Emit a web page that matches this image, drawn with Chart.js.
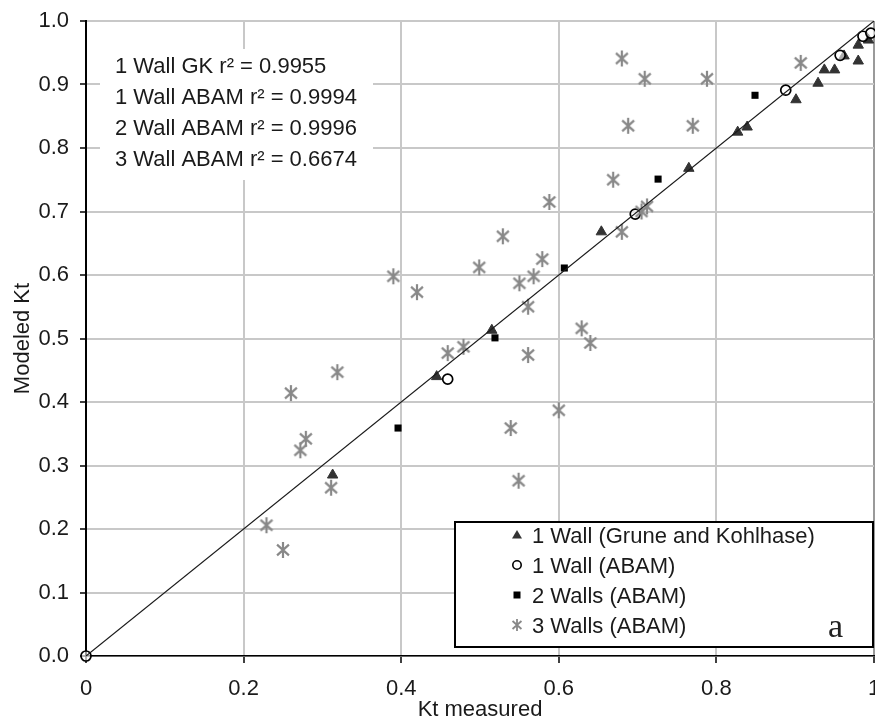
<!DOCTYPE html>
<html>
<head>
<meta charset="utf-8">
<title>Modeled vs measured Kt</title>
<script src="https://cdn.jsdelivr.net/npm/chart.js@4.4.1/dist/chart.umd.min.js"></script>
<style>
    body { margin: 0; background: #fff; }
    #wrap { width: 875px; height: 723px; }
</style>
</head>
<body>
<div id="wrap"><canvas id="ktChart" width="875" height="723"></canvas></div>
<script>
// Axis tick labels
const xTickLabels = ["0", "0.2", "0.4", "0.6", "0.8", "1"];
const yTickLabels = ["0.0", "0.1", "0.2", "0.3", "0.4", "0.5", "0.6", "0.7", "0.8", "0.9", "1.0"];

// 1 Wall (Grune and Kohlhase)
const gkX = [0.313, 0.445, 0.515, 0.654, 0.765, 0.827, 0.839, 0.901, 0.929, 0.937, 0.950, 0.962, 0.980, 0.980, 0.993];
const gkY = [0.285, 0.440, 0.513, 0.668, 0.768, 0.825, 0.833, 0.876, 0.902, 0.923, 0.923, 0.945, 0.937, 0.962, 0.970];

// 1 Wall (ABAM)
const abamX = [0, 0.459, 0.697, 0.888, 0.957, 0.986, 0.996];
const abamY = [0, 0.436, 0.696, 0.891, 0.946, 0.976, 0.981];

// 2 Walls (ABAM)
const twoX = [0.396, 0.519, 0.607, 0.726, 0.849];
const twoY = [0.359, 0.501, 0.611, 0.751, 0.883];

// 3 Walls (ABAM)
const threeX = [0.229, 0.250, 0.260, 0.272, 0.279, 0.311, 0.319,
    0.390, 0.420, 0.459, 0.479, 0.499, 0.529, 0.539, 0.549, 0.550, 0.561, 0.561,
    0.568, 0.579, 0.588, 0.600, 0.629, 0.640,
    0.669, 0.680, 0.680, 0.688, 0.705, 0.712, 0.709, 0.770, 0.788, 0.907];
const threeY = [0.206, 0.167, 0.414, 0.324, 0.342, 0.265, 0.447,
    0.598, 0.573, 0.477, 0.487, 0.612, 0.661, 0.359, 0.276, 0.587, 0.550, 0.474,
    0.598, 0.625, 0.715, 0.387, 0.516, 0.493,
    0.750, 0.668, 0.941, 0.835, 0.700, 0.708, 0.909, 0.835, 0.909, 0.934];

// 1:1 line
const lineX = [0, 1];
const lineY = [0, 1];

const rSquaredText = [
    "1 Wall GK r\u00b2 = 0.9955",
    "1 Wall ABAM r\u00b2 = 0.9994",
    "2 Wall ABAM r\u00b2 = 0.9996",
    "3 Wall ABAM r\u00b2 = 0.6674"
];
const legendText = [
    "1 Wall (Grune and Kohlhase)",
    "1 Wall (ABAM)",
    "2 Walls (ABAM)",
    "3 Walls (ABAM)"
];

const FONT = '"Liberation Sans", Arial, sans-serif';
const STAR_GREY = "#888";

function toPoints(xs, ys) {
    return xs.map((x, i) => ({ x: x, y: ys[i] }));
}

// six-armed asterisk used for the 3 wall series
function makeStar(size, lw) {
    const c = document.createElement("canvas");
    c.width = size;
    c.height = size;
    const g = c.getContext("2d");
    const m = size / 2;
    const r = size / 2 - 1;
    const a = 42 * Math.PI / 180;
    g.strokeStyle = STAR_GREY;
    g.lineWidth = lw;
    g.beginPath();
    g.moveTo(m, m - r);
    g.lineTo(m, m + r);
    g.moveTo(m - r * Math.cos(a), m - r * Math.sin(a));
    g.lineTo(m + r * Math.cos(a), m + r * Math.sin(a));
    g.moveTo(m - r * Math.cos(a), m + r * Math.sin(a));
    g.lineTo(m + r * Math.cos(a), m - r * Math.sin(a));
    g.stroke();
    return c;
}

const starBig = makeStar(18, 2.2);
const starSmall = makeStar(14, 1.8);

// r-squared text box and the legend box
const boxesPlugin = {
    id: "boxes",
    beforeDatasetsDraw(chart) {
        const ctx = chart.ctx;
        ctx.save();
        ctx.fillStyle = "#fff";
        ctx.fillRect(100, 49, 273, 131);
        ctx.fillStyle = "#1a1a1a";
        ctx.font = "22px " + FONT;
        ctx.textBaseline = "alphabetic";
        rSquaredText.forEach((t, i) => ctx.fillText(t, 115, 73 + i * 31));
        ctx.restore();
    },
    afterDatasetsDraw(chart) {
        const ctx = chart.ctx;
        ctx.save();
        ctx.fillStyle = "#fff";
        ctx.fillRect(455, 522, 418, 125);
        ctx.strokeStyle = "#000";
        ctx.lineWidth = 2;
        ctx.strokeRect(455, 522, 418, 125);

        const mx = 517;
        legendText.forEach((t, i) => {
            const base = 543 + i * 30;
            const cy = base - 8;
            ctx.beginPath();
            if (i === 0) {
                ctx.fillStyle = "#333";
                ctx.moveTo(mx, cy - 5);
                ctx.lineTo(mx + 5, cy + 3.5);
                ctx.lineTo(mx - 5, cy + 3.5);
                ctx.closePath();
                ctx.fill();
            } else if (i === 1) {
                ctx.strokeStyle = "#000";
                ctx.lineWidth = 1.6;
                ctx.fillStyle = "#fff";
                ctx.arc(mx, cy, 4.2, 0, Math.PI * 2);
                ctx.fill();
                ctx.stroke();
            } else if (i === 2) {
                ctx.fillStyle = "#000";
                ctx.fillRect(mx - 3.5, cy - 3.5, 7, 7);
            } else {
                ctx.drawImage(starSmall, mx - starSmall.width / 2, cy - starSmall.height / 2);
            }
            ctx.fillStyle = "#1a1a1a";
            ctx.font = "22px " + FONT;
            ctx.fillText(t, 532, base);
        });

        ctx.font = '34px "Liberation Serif", "DejaVu Serif", serif';
        ctx.fillStyle = "#222";
        ctx.fillText("a", 828, 637);
        ctx.restore();
    }
};

Chart.defaults.font.family = FONT;
Chart.defaults.font.size = 22;
Chart.defaults.color = "#1a1a1a";

const ctxKt = document.getElementById("ktChart").getContext("2d");
new Chart(ctxKt, {
    type: "scatter",
    data: {
        datasets: [
            {
                label: "1:1",
                type: "line",
                data: toPoints(lineX, lineY),
                borderColor: "#1a1a1a",
                borderWidth: 1.2,
                pointRadius: 0,
                fill: false,
            },
            {
                label: legendText[3],
                data: toPoints(threeX, threeY),
                pointStyle: starBig,
                pointRadius: 8,
                clip: false,
            },
            {
                label: legendText[1],
                data: toPoints(abamX, abamY),
                pointStyle: "circle",
                pointRadius: 5,
                backgroundColor: "rgba(255,255,255,0.6)",
                borderColor: "#000",
                borderWidth: 1.7,
                clip: false,
            },
            {
                label: legendText[2],
                data: toPoints(twoX, twoY),
                pointStyle: "rect",
                pointRadius: 5,
                backgroundColor: "#000",
                borderColor: "#000",
                borderWidth: 0,
                clip: false,
            },
            {
                label: legendText[0],
                data: toPoints(gkX, gkY),
                pointStyle: "triangle",
                pointRadius: 6,
                backgroundColor: "#333",
                borderColor: "#333",
                borderWidth: 1,
                clip: false,
            },
        ]
    },
    options: {
        responsive: false,
        animation: false,
        events: [],
        layout: {
            autoPadding: false,
            padding: { top: 21, right: 1, left: 0, bottom: 0 },
        },
        plugins: {
            legend: { display: false },
            tooltip: { enabled: false },
        },
        scales: {
            x: {
                type: "linear",
                min: 0,
                max: 1,
                ticks: {
                    stepSize: 0.2,
                    padding: 13,
                    maxRotation: 0,
                    autoSkip: false,
                    callback: (v, i) => xTickLabels[i],
                },
                grid: {
                    color: c => (c.tick && c.tick.value === 1 ? "#9a9a9a" : "#c8c8c8"),
                    lineWidth: 2,
                    tickLength: 7,
                    tickColor: "#000",
                    tickWidth: 1.5,
                },
                border: { color: "#000", width: 1.5 },
                title: {
                    display: true,
                    text: "Kt measured",
                    padding: { top: 0, bottom: 0 },
                },
                afterFit: s => {
                    s.height = 67;
                    s.paddingLeft = 0;
                    s.paddingRight = 0;
                },
            },
            y: {
                type: "linear",
                min: 0,
                max: 1,
                ticks: {
                    stepSize: 0.1,
                    padding: 11,
                    autoSkip: false,
                    callback: (v, i) => yTickLabels[i],
                },
                grid: {
                    color: "#c8c8c8",
                    lineWidth: 2,
                    tickLength: 6,
                    tickColor: "#000",
                    tickWidth: 1.5,
                },
                border: { color: "#000", width: 2 },
                title: {
                    display: true,
                    text: "Modeled Kt",
                    padding: { top: 10, bottom: 0 },
                },
                afterFit: s => {
                    s.width = 86;
                    s.paddingTop = 0;
                    s.paddingBottom = 0;
                },
            },
        },
    },
    plugins: [boxesPlugin],
});
</script>
</body>
</html>
